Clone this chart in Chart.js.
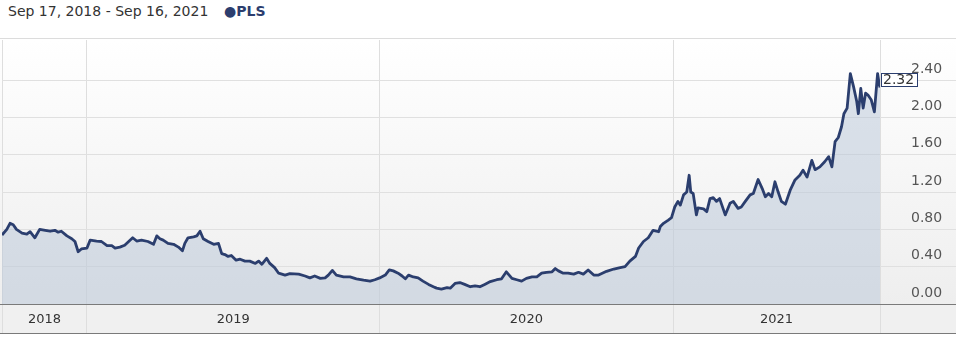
<!DOCTYPE html>
<html>
<head>
<meta charset="utf-8">
<script src="https://cdn.jsdelivr.net/npm/chart.js@4.4.0/dist/chart.umd.min.js"></script>
<style>
  body { margin: 0; background: #fff; width: 956px; height: 337px; overflow: hidden; font-family: "DejaVu Sans", Verdana, sans-serif; }
  .head { height: 38px; border-bottom: 1px solid #dcdcdc; position: relative; }
  .range { position: absolute; left: 8px; top: 3px; font-size: 14px; color: #333; }
  .legend { position: absolute; left: 224px; top: 3px; font-size: 14px; font-weight: bold; color: #2c3e6e; }
  .wrap { position: relative; width: 956px; height: 298px; }
</style>
</head>
<body>
<div class="head">
  <span class="range">Sep 17, 2018 - Sep 16, 2021</span>
  <span class="legend">●PLS</span>
</div>
<div class="wrap"><canvas id="plsChart" width="956" height="298"></canvas></div>
<script>
// days counted from Sep 17, 2018
const days = [
    0, 6, 10, 14, 18, 25, 31, 35, 41, 47, 54, 60, 66, 70, 74, 81, 87, 91, 95, 99,
    106, 110, 118, 124, 131, 137, 141, 147, 153, 158, 163, 168, 174, 182,
    189, 193, 197, 201, 207, 214, 220, 225, 228, 232, 239, 243, 247, 251, 257, 264,
    270, 274, 278, 282, 286, 292, 297, 303, 309, 316, 320, 324, 330, 334, 340, 345, 353, 359, 370,
    378, 384, 390, 397, 403, 407, 412, 417, 426, 434, 442, 451, 459, 465, 471, 478, 483, 488, 494, 499,
    503, 507, 513, 519, 525, 532, 538, 542, 548, 555, 559,
    565, 571, 577, 584, 590, 596, 602, 609, 617, 623, 629, 636, 642, 648, 654, 661, 667, 673, 679, 686,
    690, 694, 700, 706, 713, 719, 725, 731, 738, 744,
    754, 763, 771, 777, 783, 790, 794, 800, 806, 812, 819, 821, 825, 831, 835, 839, 843, 846, 850, 854,
    857, 859, 862, 866, 868, 875, 879, 883, 887, 891, 895, 902, 908, 912, 918, 922,
    927, 933, 937, 943, 948, 952, 956, 960, 964, 968, 972, 977, 983, 989, 995, 999, 1004, 1010, 1014, 1020,
    1026, 1031, 1035, 1039, 1043, 1047, 1050, 1054, 1058, 1062, 1066, 1068, 1071, 1074, 1077, 1080, 1084, 1088, 1092, 1094,
    1095
];
const prices = [
    0.74, 0.80, 0.865, 0.85, 0.80, 0.76, 0.75, 0.775, 0.71, 0.80, 0.79, 0.78, 0.79, 0.77, 0.78, 0.73, 0.70, 0.67, 0.56, 0.59,
    0.60, 0.685, 0.675, 0.67, 0.625, 0.625, 0.60, 0.61, 0.63, 0.67, 0.71, 0.675, 0.685, 0.67,
    0.64, 0.73, 0.70, 0.685, 0.65, 0.64, 0.61, 0.57, 0.65, 0.71, 0.72, 0.73, 0.78, 0.70, 0.67, 0.64,
    0.65, 0.54, 0.53, 0.51, 0.52, 0.47, 0.48, 0.46, 0.46, 0.435, 0.46, 0.425, 0.49, 0.435, 0.39, 0.33, 0.31, 0.325, 0.32,
    0.30, 0.28, 0.30, 0.275, 0.28, 0.31, 0.36, 0.31, 0.29, 0.29, 0.27, 0.255, 0.245, 0.26, 0.28, 0.31, 0.365, 0.355, 0.33, 0.30,
    0.27, 0.31, 0.29, 0.28, 0.245, 0.21, 0.185, 0.17, 0.16, 0.175, 0.17,
    0.22, 0.23, 0.21, 0.185, 0.195, 0.185, 0.21, 0.24, 0.26, 0.27, 0.345, 0.275, 0.26, 0.245, 0.275, 0.29, 0.29, 0.33, 0.34, 0.345,
    0.38, 0.355, 0.33, 0.33, 0.32, 0.34, 0.32, 0.365, 0.31, 0.31,
    0.35, 0.375, 0.39, 0.40, 0.46, 0.51, 0.60, 0.67, 0.71, 0.79, 0.775, 0.83, 0.865, 0.90, 0.925, 1.04, 1.10, 1.06, 1.17, 1.20,
    1.38, 1.20, 1.185, 0.955, 1.03, 1.02, 0.99, 1.13, 1.14, 1.10, 1.13, 0.955, 1.08, 1.10, 1.025, 1.04,
    1.10, 1.17, 1.185, 1.335, 1.24, 1.15, 1.185, 1.15, 1.31, 1.20, 1.10, 1.07, 1.22, 1.33, 1.38, 1.435, 1.36, 1.54, 1.44, 1.47,
    1.525, 1.58, 1.47, 1.74, 1.785, 1.90, 2.04, 2.10, 2.47, 2.33, 2.17, 2.04, 2.31, 2.10, 2.26, 2.24, 2.19, 2.06, 2.47, 2.36,
    2.32
];
const yearNames = ['2018', '2019', '2020', '2021'];
const yearEdges = [0, 106, 471, 837, 1095]; // Jan 1 of each year, plus both ends

const lineColor = '#2b3e6e';
const bandHeight = 29;

// background gradient + bottom band fill
const backdropPlugin = {
    id: 'backdrop',
    beforeDraw: function (chart) {
        const ctx = chart.ctx;
        const a = chart.chartArea;
        const g = ctx.createLinearGradient(0, a.top, 0, a.bottom);
        g.addColorStop(0, '#ffffff');
        g.addColorStop(1, '#eeeeee');
        ctx.save();
        ctx.fillStyle = g;
        ctx.fillRect(0, a.top, chart.width, a.bottom - a.top);
        ctx.fillStyle = '#f0f0f0';
        ctx.fillRect(0, a.bottom, chart.width, bandHeight);
        ctx.restore();
    }
};

// year labels and the band borders
const yearBandPlugin = {
    id: 'yearBand',
    afterDraw: function (chart) {
        const ctx = chart.ctx;
        const a = chart.chartArea;
        const xs = chart.scales.x;
        ctx.save();
        ctx.strokeStyle = '#7a7a7a';
        ctx.lineWidth = 1;
        ctx.beginPath();
        ctx.moveTo(0, a.bottom + 0.5);
        ctx.lineTo(chart.width, a.bottom + 0.5);
        ctx.moveTo(0, a.bottom + bandHeight + 0.5);
        ctx.lineTo(chart.width, a.bottom + bandHeight + 0.5);
        ctx.stroke();

        ctx.font = '13px "DejaVu Sans", Verdana, sans-serif';
        ctx.fillStyle = '#333';
        ctx.textAlign = 'center';
        ctx.textBaseline = 'middle';
        for (let i = 0; i < yearNames.length; i++) {
            const x0 = xs.getPixelForValue(yearEdges[i]);
            const x1 = xs.getPixelForValue(yearEdges[i + 1]);
            ctx.fillText(yearNames[i], (x0 + x1) / 2, a.bottom + bandHeight / 2 + 1);
        }
        ctx.restore();
    }
};

// boxed last price at the end of the line
const lastValuePlugin = {
    id: 'lastValue',
    afterDatasetsDraw: function (chart) {
        const ctx = chart.ctx;
        const meta = chart.getDatasetMeta(0);
        const pt = meta.data[meta.data.length - 1];
        const txt = prices[prices.length - 1].toFixed(2);
        ctx.save();
        ctx.font = '14px "DejaVu Sans", Verdana, sans-serif';
        const w = Math.round(ctx.measureText(txt).width) + 5;
        const x = Math.round(pt.x) + 1;
        const y = Math.round(pt.y) - 15;
        ctx.fillStyle = '#ffffff';
        ctx.fillRect(x, y, w, 13);
        ctx.strokeStyle = lineColor;
        ctx.lineWidth = 1;
        ctx.strokeRect(x + 0.5, y + 0.5, w, 13);
        ctx.fillStyle = '#333';
        ctx.textBaseline = 'middle';
        ctx.fillText(txt, x + 2, y + 7.5);
        ctx.restore();
    }
};

const ctx = document.getElementById('plsChart').getContext('2d');
new Chart(ctx, {
    type: 'line',
    data: {
        datasets: [{
            label: 'PLS',
            data: days.map((d, i) => ({ x: d, y: prices[i] })),
            borderColor: lineColor,
            borderWidth: 2.8,
            borderJoinStyle: 'round',
            backgroundColor: 'rgba(183, 197, 215, 0.5)',
            fill: 'origin',
            pointRadius: 0,
            tension: 0
        }]
    },
    options: {
        responsive: false,
        devicePixelRatio: 1,
        animation: false,
        layout: {
            padding: { left: 2, top: 1, right: 0, bottom: 4 }
        },
        plugins: {
            legend: { display: false },
            tooltip: { enabled: false }
        },
        scales: {
            x: {
                type: 'linear',
                min: 0,
                max: 1095,
                afterBuildTicks: function (scale) {
                    scale.ticks = yearEdges.map(v => ({ value: v }));
                },
                afterFit: function (scale) {
                    scale.height = bandHeight;
                },
                ticks: { display: false },
                grid: {
                    color: '#dedede',
                    lineWidth: 1,
                    tickLength: bandHeight
                },
                border: { display: false }
            },
            y: {
                position: 'right',
                min: 0,
                max: 2.83,
                afterBuildTicks: function (scale) {
                    scale.ticks = scale.ticks.filter(t => t.value <= 2.41);
                },
                afterFit: function (scale) {
                    scale.width = 76;
                },
                ticks: {
                    stepSize: 0.4,
                    includeBounds: false,
                    callback: v => v.toFixed(2),
                    font: { family: '"DejaVu Sans", Verdana, sans-serif', size: 14 },
                    color: '#555',
                    crossAlign: 'near',
                    padding: -45,
                    labelOffset: -11
                },
                grid: {
                    color: '#e0e0e0',
                    lineWidth: 1,
                    tickLength: 76
                },
                border: { display: false }
            }
        }
    },
    plugins: [backdropPlugin, yearBandPlugin, lastValuePlugin]
});
</script>
</body>
</html>
